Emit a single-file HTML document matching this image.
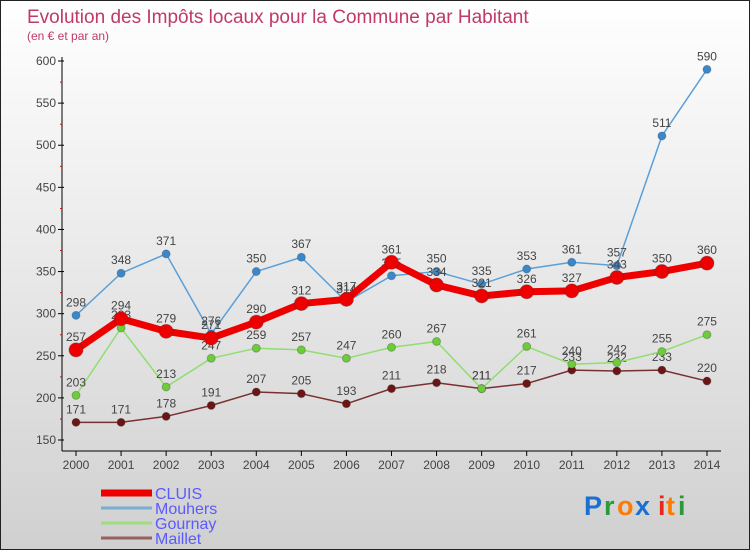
<!DOCTYPE html>
<html><head><meta charset="utf-8"><style>
body{margin:0;width:750px;height:550px;overflow:hidden;font-family:"Liberation Sans",sans-serif}
#wrap{position:relative;width:748px;height:548px;border:1px solid #222;background:linear-gradient(#fff 0%,#e8e8e8 50%,#d0d0d0 100%)}
svg text{font-family:"Liberation Sans",sans-serif}
</style></head><body>
<div id="wrap">
<svg id="chart" width="748" height="548">
<text x="26" y="22" font-size="19" fill="#c0396a">Evolution des Impôts locaux pour la Commune par Habitant</text>
<text x="26" y="39" font-size="12" fill="#c0396a">(en € et par an)</text>
<g id="axes"></g><g id="series"></g><g id="legend"></g>
<g font-size="27" font-weight="bold">
<text x="583" y="514" fill="#1a6fd0">P</text><text x="603" y="514" fill="#2a9a3a">r</text><text x="616" y="514" fill="#ff7a00">o</text><text x="634" y="514" fill="#1a6fd0">x</text><text x="657" y="514" fill="#e8261a">i</text><text x="665" y="514" fill="#ff7a00">t</text><text x="677" y="514" fill="#2a9a3a">i</text>
</g>
</svg></div>
<script>
const years=[2000,2001,2002,2003,2004,2005,2006,2007,2008,2009,2010,2011,2012,2013,2014];
const yTicks=[150,200,250,300,350,400,450,500,550,600];
const cluis=[257,294,279,271,290,312,317,361,334,321,326,327,343,350,360];
const mouhers=[298,348,371,276,350,367,314,345,350,335,353,361,357,511,590];
const gournay=[203,283,213,247,259,257,247,260,267,211,261,240,242,255,275];
const maillet=[171,171,178,191,207,205,193,211,218,211,217,233,232,233,220];
const NS='http://www.w3.org/2000/svg';
const xS=i=>75+i*45.07, yS=v=>439-(v-150)*0.8422;
function mk(t,a,p){const e=document.createElementNS(NS,t);for(const k in a)e.setAttribute(k,a[k]);p.appendChild(e);return e;}
const ax=document.getElementById('axes');
let l=mk('line',{x1:61,y1:56,x2:61,y2:450,stroke:'#000'},ax);


l=mk('line',{x1:61,y1:450,x2:720,y2:450,stroke:'#000'},ax);


yTicks.forEach(v=>{const y=yS(v);mk('line',{x1:57,y1:y,x2:63,y2:y,stroke:'#000'},ax);
 if(v<600)mk('line',{x1:59,y1:y-21,x2:61,y2:y-21,stroke:'#e00'},ax);
 const t=mk('text',{x:55,y:y+4,'text-anchor':'end','font-size':12,fill:'#444'},ax);t.textContent=v;
 
 });
years.forEach((yr,i)=>{const x=xS(i);mk('line',{x1:x,y1:450,x2:x,y2:455,stroke:'#000'},ax);
 const t=mk('text',{x:x,y:468,'text-anchor':'middle','font-size':12,fill:'#444'},ax);t.textContent=yr;
 
 });
const sg=document.getElementById('series');
function draw(data,name,color,dot,w,r,lab){
 const g=mk('g',{},sg);
 
 
 mk('polyline',{points:data.map((v,i)=>xS(i)+','+yS(v)).join(' '),fill:'none',stroke:color,'stroke-width':w,'stroke-linejoin':'round'},g);
 data.forEach((v,i)=>{const c=mk('circle',{cx:xS(i),cy:yS(v),r:r,fill:dot,stroke:'#333','stroke-opacity':0.3},g);
  
  
  const t=mk('text',{x:xS(i),y:yS(v)-9,'text-anchor':'middle','font-size':12,fill:'#444'},g);t.textContent=v;
  
  });
}
draw(maillet,'maillet','#7a3030','#6b1515',1.5,4,1);
draw(gournay,'gournay','#90dd70','#6ccc3a',1.5,4,1);
draw(mouhers,'mouhers','#5aa0d8','#3a88cc',1.5,4,1);
draw(cluis,'cluis','#ee0000','#ee0000',7,7,1);
const lg=document.getElementById('legend');
[['CLUIS','#ee0000',7],['Mouhers','#7aaed0',3],['Gournay','#a0dd80',3],['Maillet','#9a6060',3]].forEach((s,i)=>{
 const y=492+i*15;
 const ln=mk('line',{x1:100,y1:y,x2:151,y2:y,stroke:s[1],'stroke-width':s[2]},lg);
 
 
 const t=mk('text',{x:154,y:y+6,'font-size':16,fill:'#5a5aff'},lg);t.textContent=s[0];
 
 
});
</script>
</body></html>
